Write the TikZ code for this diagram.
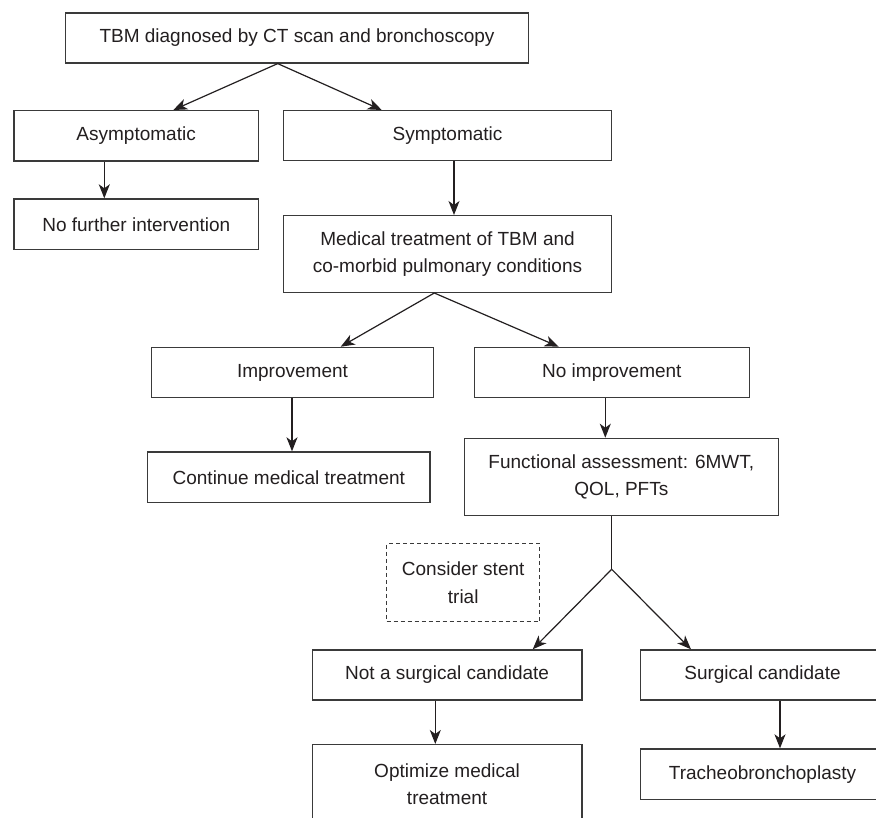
\documentclass[tikz,border=0pt]{standalone}
\usepackage{fontspec}
\setmainfont{Liberation Sans}
\usetikzlibrary{arrows.meta,calc}
\definecolor{ink}{HTML}{231F20}
\definecolor{edge}{HTML}{3A3A3A}
\tikzset{
  box/.style={draw=edge, line width=1.3pt, rectangle, inner sep=0pt, anchor=north west,
    text=ink, align=center, font=\fontsize{19}{27.6}\selectfont},
  dbox/.style={box, dash pattern=on 4pt off 3pt, line width=1.1pt},
  arr/.style={draw=ink, line width=1.2pt, -{Stealth[length=14pt,width=11pt,inset=4pt]}},
  ln/.style={draw=ink, line width=1.2pt}
}
\begin{document}
\begin{tikzpicture}[x=1pt,y=-1pt]
\useasboundingbox (0,0) rectangle (876,818);
\clip (0,0) rectangle (876,818);
\fill[white] (0,0) rectangle (876,818);
% boxes
\node[box, minimum width=462.7pt, minimum height=50pt] (top) at (65,12.3) {TBM diagnosed by CT scan and bronchoscopy};
\node[box, minimum width=244.4pt, minimum height=50.3pt] (asym) at (13.3,110) {Asymptomatic};
\node[box, minimum width=328.3pt, minimum height=50pt] (symp) at (282.7,110) {Symptomatic};
\node[box, minimum width=244.7pt, minimum height=50.7pt] (nofur) at (13.3,198.3) {No further intervention};
\node[box, minimum width=328.3pt, minimum height=76.7pt] (med) at (282.7,215) {Medical treatment of TBM and\\co-morbid pulmonary conditions};
\node[box, minimum width=281.7pt, minimum height=50.3pt] (imp) at (151,346.7) {Improvement};
\node[box, minimum width=275pt, minimum height=50.3pt] (noimp) at (473.7,346.7) {No improvement};
\node[box, minimum width=282.3pt, minimum height=50.7pt] (cont) at (147,451.3) {Continue medical treatment};
\node[box, minimum width=314pt, minimum height=77.3pt] (func) at (463.7,437.7) {Functional assessment: 6MWT,\\QOL, PFTs};
\node[dbox, minimum width=153.3pt, minimum height=77.4pt] (stent) at (386,543.3) {Consider stent\\trial};
\node[box, minimum width=269.7pt, minimum height=50pt] (nsurg) at (311.6,649.3) {Not a surgical candidate};
\node[box, minimum width=244.3pt, minimum height=50pt] (surg) at (639.7,649.3) {Surgical candidate};
\node[box, minimum width=269.7pt, minimum height=79pt] (opt) at (311.6,744) {Optimize medical\\treatment};
\node[box, minimum width=244.3pt, minimum height=50.4pt] (trach) at (639.7,748.3) {Tracheobronchoplasty};
% connector coordinates
\coordinate (c1) at (277.7,0);
\coordinate (c2) at (173.3,0);
\coordinate (c3) at (381.7,0);
\coordinate (c4) at (104.3,0);
\coordinate (c5) at (454,0);
\coordinate (c6) at (434.3,0);
\coordinate (c7) at (340.7,0);
\coordinate (c8) at (558.7,0);
\coordinate (c9) at (292,0);
\coordinate (c10) at (605.3,0);
\coordinate (c11) at (611.7,0);
\coordinate (br) at (611.7,569.3);
\coordinate (c12) at (532.7,0);
\coordinate (c13) at (691,0);
\coordinate (c14) at (435.3,0);
\coordinate (c15) at (780,0);
% connectors
\draw[arr] (top.south -| c1) -- (asym.north -| c2);
\draw[arr] (top.south -| c1) -- (symp.north -| c3);
\draw[arr] (asym.south -| c4) -- (nofur.north -| c4);
\draw[arr] (symp.south -| c5) -- (med.north -| c5);
\draw[arr] (med.south -| c6) -- (imp.north -| c7);
\draw[arr] (med.south -| c6) -- (noimp.north -| c8);
\draw[arr] (imp.south -| c9) -- (cont.north -| c9);
\draw[arr] (noimp.south -| c10) -- (func.north -| c10);
\draw[ln] (func.south -| c11) -- (br);
\draw[arr] (br) -- (nsurg.north -| c12);
\draw[arr] (br) -- (surg.north -| c13);
\draw[arr] (nsurg.south -| c14) -- (opt.north -| c14);
\draw[arr] (surg.south -| c15) -- (trach.north -| c15);
\end{tikzpicture}
\end{document}
